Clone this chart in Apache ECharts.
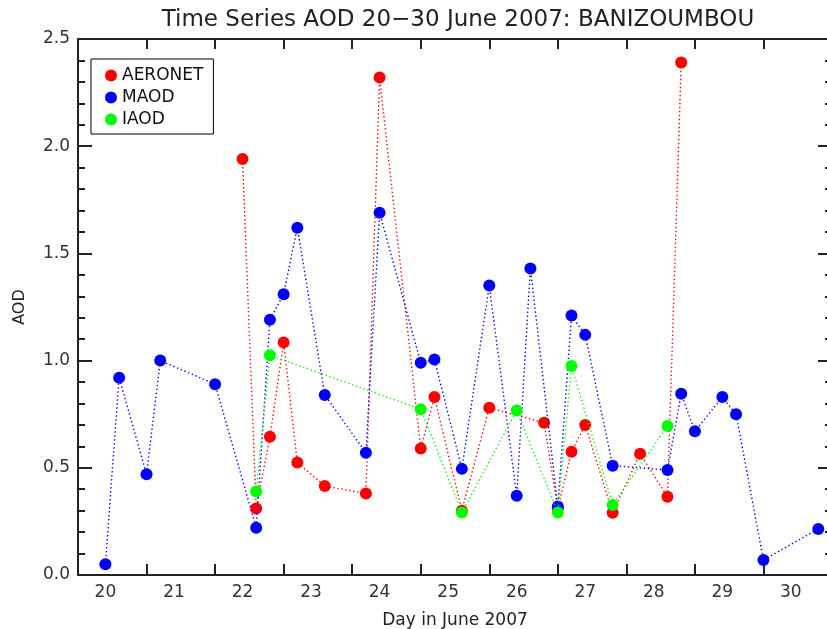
<!DOCTYPE html>
<html>
<head>
<meta charset="utf-8">
<title>AOD time series</title>
<script src="https://cdn.jsdelivr.net/npm/echarts@6/dist/echarts.min.js"></script>
<style>
    html, body{
        margin: 0;
        padding: 0;
        background: #fff;
    }
    #chart{
        width: 827px;
        height: 629px;
    }
</style>
</head>
<body>
<div id="chart"></div>
<script>
    // AERONET
    var aeronetDays = [22.0, 22.2, 22.4, 22.6, 22.8, 23.2, 23.8, 24.0, 24.6, 24.8, 25.2, 25.6, 26.4, 26.6, 26.8, 27.0, 27.4, 27.8, 28.2, 28.4];
    var aeronetAod  = [1.94, 0.31, 0.645, 1.085, 0.525, 0.415, 0.38, 2.32, 0.59, 0.83, 0.30, 0.78, 0.71, 0.31, 0.575, 0.70, 0.29, 0.565, 0.365, 2.39];
    // MAOD
    var maodDays = [20.0, 20.2, 20.6, 20.8, 21.6, 22.2, 22.4, 22.6, 22.8, 23.2, 23.8, 24.0, 24.6, 24.8, 25.2, 25.6, 26.0, 26.2, 26.6, 26.8, 27.0, 27.4, 28.2, 28.4, 28.6, 29.0, 29.2, 29.6, 30.4];
    var maodAod  = [0.05, 0.92, 0.47, 1.00, 0.89, 0.22, 1.19, 1.31, 1.62, 0.84, 0.57, 1.69, 0.99, 1.005, 0.495, 1.35, 0.37, 1.43, 0.32, 1.21, 1.12, 0.51, 0.49, 0.845, 0.67, 0.83, 0.75, 0.07, 0.215];
    // IAOD
    var iaodDays = [22.2, 22.4, 24.6, 25.2, 26.0, 26.6, 26.8, 27.4, 28.2];
    var iaodAod  = [0.39, 1.025, 0.773, 0.292, 0.767, 0.292, 0.975, 0.327, 0.695];

    // x轴: 刻度线和标签不在同一位置
    var dayTicks  = [20.6, 21.6, 22.6, 23.6, 24.6, 25.6, 26.6, 27.6, 28.6, 29.6];
    var dayLabels = [20, 21, 22, 23, 24, 25, 26, 27, 28, 29, 30];

    function pairs(xs, ys){
        var out = [];
        for (var i = 0; i < xs.length; i++) {
            out.push([xs[i], ys[i]]);
        }
        return out;
    }

    var font = 'DejaVu Sans';
    var axisColor = '#222';
    var tickStyle = { color: axisColor, width: 2 };

    var myChart = echarts.init(document.getElementById('chart'));

    var option = {
        animation: false,
        backgroundColor: '#fff',
        title: {
            text: 'Time Series AOD 20\u221230 June 2007: BANIZOUMBOU',
            left: 453,
            top: 4,
            textAlign: 'center',
            textStyle: {
                fontFamily: font,
                fontSize: 23,
                fontWeight: 'normal',
                color: '#222'
            }
        },
        legend: {
            orient: 'vertical',
            left: 91,
            top: 59,
            padding: [8, 10, 6, 14],
            itemGap: 5,
            itemWidth: 12,
            itemHeight: 12,
            icon: 'circle',
            borderColor: '#000',
            borderWidth: 1,
            textStyle: {
                fontFamily: font,
                fontSize: 17,
                color: '#111'
            },
            data: ['AERONET', 'MAOD', 'IAOD']
        },
        grid: {
            left: 78,
            top: 39,
            width: 754,
            height: 536,
            outerBoundsMode: 'none'
        },
        xAxis: [
            {
                type: 'value',
                position: 'bottom',
                min: 19.6,
                max: 30.6,
                name: 'Day in June 2007',
                nameLocation: 'middle',
                nameGap: 37,
                nameTextStyle: {
                    fontFamily: font,
                    fontSize: 17,
                    color: '#222'
                },
                splitLine: { show: false },
                axisLine: {
                    show: true,
                    onZero: false,
                    lineStyle: { color: axisColor, width: 2 }
                },
                axisTick: {
                    show: true,
                    inside: true,
                    length: 11,
                    customValues: dayTicks,
                    lineStyle: tickStyle
                },
                axisLabel: {
                    show: true,
                    customValues: dayLabels,
                    margin: 9,
                    fontFamily: font,
                    fontSize: 17,
                    color: '#333'
                }
            },
            {
                // 上边框
                type: 'value',
                position: 'top',
                min: 19.6,
                max: 30.6,
                splitLine: { show: false },
                axisLine: {
                    show: true,
                    onZero: false,
                    lineStyle: { color: axisColor, width: 2 }
                },
                axisTick: {
                    show: true,
                    inside: true,
                    length: 10,
                    customValues: dayTicks,
                    lineStyle: tickStyle
                },
                axisLabel: { show: false }
            }
        ],
        yAxis: [
            {
                type: 'value',
                position: 'left',
                min: 0,
                max: 2.5,
                interval: 0.5,
                name: 'AOD',
                nameLocation: 'middle',
                nameGap: 50,
                nameTextStyle: {
                    fontFamily: font,
                    fontSize: 16,
                    color: '#222'
                },
                splitLine: { show: false },
                axisLine: {
                    show: true,
                    onZero: false,
                    lineStyle: { color: axisColor, width: 2 }
                },
                axisTick: {
                    show: true,
                    inside: true,
                    length: 14,
                    lineStyle: tickStyle
                },
                minorTick: {
                    show: true,
                    splitNumber: 5,
                    length: 7,
                    lineStyle: tickStyle
                },
                axisLabel: {
                    show: true,
                    margin: 8,
                    fontFamily: font,
                    fontSize: 17,
                    color: '#333',
                    formatter: function (v) { return v.toFixed(1); }
                }
            },
            {
                // 右边框
                type: 'value',
                position: 'right',
                min: 0,
                max: 2.5,
                interval: 0.5,
                splitLine: { show: false },
                axisLine: {
                    show: true,
                    onZero: false,
                    lineStyle: { color: axisColor, width: 2 }
                },
                axisTick: {
                    show: true,
                    inside: true,
                    length: 14,
                    lineStyle: tickStyle
                },
                minorTick: {
                    show: true,
                    splitNumber: 5,
                    length: 7,
                    lineStyle: tickStyle
                },
                axisLabel: { show: false }
            }
        ],
        series: [
            {
                name: 'AERONET',
                type: 'line',
                data: pairs(aeronetDays, aeronetAod),
                symbol: 'circle',
                symbolSize: 12,
                showAllSymbol: true,
                itemStyle: { color: '#ff0000' },
                lineStyle: { color: '#ff0000', width: 1.4, type: [1.4, 2.6] },
                z: 2
            },
            {
                name: 'MAOD',
                type: 'line',
                data: pairs(maodDays, maodAod),
                symbol: 'circle',
                symbolSize: 12,
                showAllSymbol: true,
                itemStyle: { color: '#0000ff' },
                lineStyle: { color: '#0000ff', width: 1.4, type: [1.4, 2.6] },
                z: 3
            },
            {
                name: 'IAOD',
                type: 'line',
                data: pairs(iaodDays, iaodAod),
                symbol: 'circle',
                symbolSize: 12,
                showAllSymbol: true,
                itemStyle: { color: '#00ff00' },
                lineStyle: { color: '#00ff00', width: 1.4, type: [1.4, 2.6] },
                z: 4
            }
        ]
    };

    myChart.setOption(option);
</script>
</body>
</html>
